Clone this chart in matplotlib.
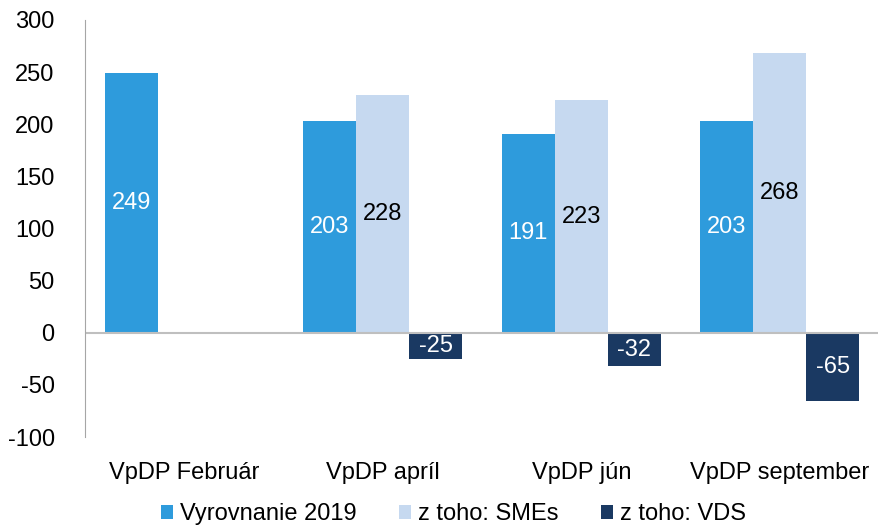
import matplotlib.pyplot as plt
import numpy as np

plt.rcParams['font.family'] = ['Liberation Sans', 'DejaVu Sans']
plt.rcParams['axes.unicode_minus'] = False

categories = ['VpDP Február', 'VpDP apríl', 'VpDP jún', 'VpDP september']
vyrovnanie = [249, 203, 191, 203]
smes = [np.nan, 228, 223, 268]
vds = [np.nan, -25, -32, -65]

series = [
    ('Vyrovnanie 2019', vyrovnanie, '#2E9BDC', 'white'),
    ('z toho: SMEs', smes, '#C6D9F0', 'black'),
    ('z toho: VDS', vds, '#1A3962', 'white'),
]

fig = plt.figure(figsize=(8.79, 5.26), dpi=100)
ax = fig.add_axes([0.097, 0.169, 0.903, 0.793])

x = np.arange(len(categories))
w = 0.267
for i, (name, vals, col, tcol) in enumerate(series):
    pos = x + (i - 1) * w
    bars = ax.bar(pos, vals, w, color=col, label=name)
    for b, v in zip(bars, vals):
        if np.isnan(v):
            continue
        ax.text(b.get_x() + b.get_width() / 2, v / 2, f'{v:.0f}',
                ha='center', va='center', color=tcol, fontsize=17)

ax.set_xlim(-0.5, len(categories) - 0.5)
ax.set_ylim(-100, 300)
ax.set_yticks(range(-100, 301, 50))
ax.axhline(0, color='#BFBFBF', lw=1.5)
ax.set_xticks(x)
ax.set_xticklabels(categories)
ax.tick_params(axis='y', length=0, pad=22, labelsize=17)
ax.tick_params(axis='x', length=0, pad=18, labelsize=17)
for s in ['top', 'right', 'bottom']:
    ax.spines[s].set_visible(False)
ax.spines['left'].set_color('#A6A6A6')

ax.legend(loc='upper center', bbox_to_anchor=(0.464, -0.108), ncol=3, frameon=False,
          fontsize=17, handlelength=0.5, handleheight=0.5, handletextpad=0.3,
          columnspacing=1.8)

fig.savefig('out.png', dpi=100)
